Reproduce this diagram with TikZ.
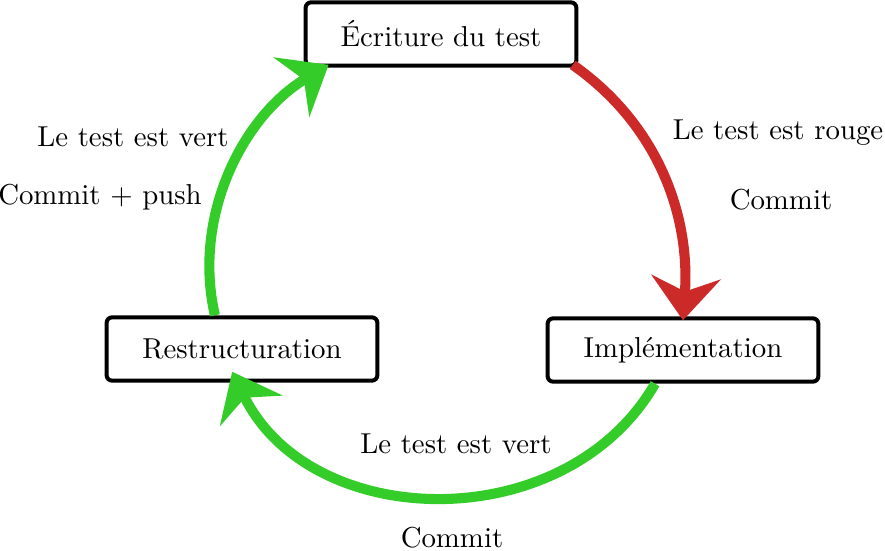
\documentclass[tikz,border=0pt]{standalone}
\usepackage{tikz}
\usepackage{xcolor}
\usetikzlibrary{arrows.meta}
\usetikzlibrary{positioning}

\definecolor{cyclered}{RGB}{204,41,41}
\definecolor{cyclegreen}{RGB}{51,204,41}

\begin{document}
\begin{tikzpicture}[x=0.347pt, y=0.347pt,
        phase/.style={draw, line width=1.4pt, rounded corners=2pt, fill=white, minimum width=94pt, minimum height=22pt, align=center},
        flow/.style={line width=3.5pt, -{Stealth[length=15pt, width=24pt, inset=5pt]}}]
        \useasboundingbox (0,0) rectangle (885,550);

        \node[phase] (write_test) at (441,516) {Écriture du test};
        \node[phase] (implementation) at (683,200) {Implémentation};
        \node[phase] (refactoring) at (242,201) {Restructuration};

        \draw[flow, cyclered] ([xshift=-2pt, yshift=1pt]write_test.south east) to [out=-35, in=86, looseness=0.96] ([yshift=-1.4pt]implementation.north);
        \draw[flow, cyclegreen] ([xshift=-9.7pt]implementation.south) to [out=-120, in=-64, looseness=1.08] ([xshift=-3.4pt, yshift=3.8pt]refactoring.south);
        \draw[flow, cyclegreen] ([xshift=-9.4pt]refactoring.north) to [out=103, in=-149, looseness=0.94] ([xshift=8.7pt, yshift=1pt]write_test.south west);

        \node (red_test) at (778,417) {Le test est rouge};
        \node (red_commit) at (781,350) {Commit};
        \node (green_test_left) at (133,413) {Le test est vert};
        \node (commit_push) at (100,353) {Commit + push};
        \node (green_test_bottom) at (456,106) {Le test est vert};
        \node (green_commit) at (452,12) {Commit};
\end{tikzpicture}
\end{document}
